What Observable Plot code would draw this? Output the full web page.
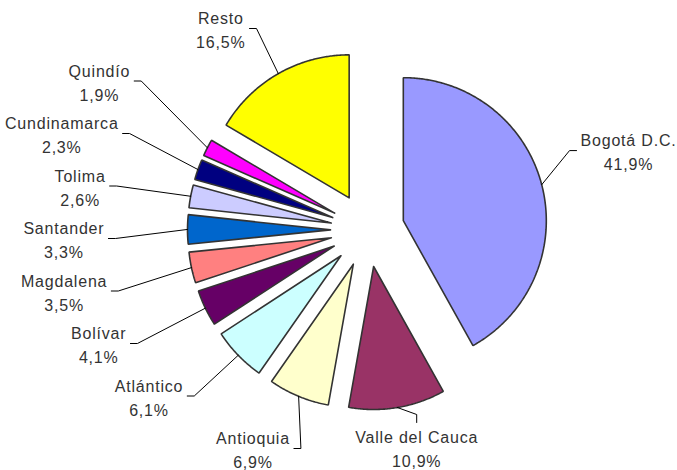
<!DOCTYPE html>
<html><head><meta charset="utf-8">
<script src="https://cdn.jsdelivr.net/npm/d3@7"></script>
<script src="https://cdn.jsdelivr.net/npm/@observablehq/plot@0.6"></script>
<style>html,body{margin:0;padding:0;background:#fff}</style>
</head><body><div id="chart"></div>
<script>
// ---- data ----
const categories = ["Bogotá D.C.", "Valle del Cauca", "Antioquia", "Atlántico", "Bolívar", "Magdalena", "Santander", "Tolima", "Cundinamarca", "Quindío", "Resto"];
const values = [41.9, 10.9, 6.9, 6.1, 4.1, 3.5, 3.3, 2.6, 2.3, 1.9, 16.5];
const pctLabels = ["41,9%", "10,9%", "6,9%", "6,1%", "4,1%", "3,5%", "3,3%", "2,6%", "2,3%", "1,9%", "16,5%"];
const colors = ["#9999FF", "#993366", "#FFFFCC", "#CCFFFF", "#660066", "#FF8080", "#0066CC", "#CCCCFF", "#000080", "#FF00FF", "#FFFF00"];

// ---- layout constants ----
const W = 677, H = 470;
const CX = 367, CY = 229.5, R = 143, EXPLODE = 37;
const D0 = 263, TICK = 7, GAP = 4, SPACING = 52.5;
const FONT_SIZE = 16, LINE_H = 1.5, LETTER = 0.8;
const FONT = "'Liberation Sans', Arial, Helvetica, sans-serif";

const dir = a => [Math.sin(a), -Math.cos(a)];
const arcs = d3.pie().sort(null).value(d => d)(values);

// slice polygons
const slicePts = [];
arcs.forEach((a, i) => {
  const mid = (a.startAngle + a.endAngle) / 2;
  const [dx, dy] = dir(mid);
  const vx = CX + EXPLODE * dx, vy = CY + EXPLODE * dy;
  const n = Math.max(2, Math.ceil((a.endAngle - a.startAngle) / (Math.PI / 360)));
  slicePts.push({i, x: vx, y: vy});
  for (let k = 0; k <= n; k++) {
    const t = a.startAngle + (a.endAngle - a.startAngle) * k / n;
    const [sx, sy] = dir(t);
    slicePts.push({i, x: vx + R * sx, y: vy + R * sy});
  }
  slicePts.push({i, x: vx, y: vy});
});

// label layout (box placed just outside the pie, then de-overlapped and kept inside)
const ctx = document.createElement("canvas").getContext("2d");
ctx.font = `${FONT_SIZE}px ${FONT}`;
const textW = s => ctx.measureText(s).width + LETTER * s.length;
const lineGap = FONT_SIZE * LINE_H;
const boxH = 2 * lineGap;

const L = arcs.map((a, i) => {
  const mid = (a.startAngle + a.endAngle) / 2;
  const [dx, dy] = dir(mid);
  const w = Math.max(textW(categories[i]), textW(pctLabels[i]));
  const side = Math.abs(mid - Math.PI) < 0.35 ? "bottom" : (dx > 0 ? "right" : "left");
  const D = D0 + Math.abs(dx) * w / 2 + Math.abs(dy) * boxH / 2;
  return {i, w, side,
    ox: CX + (R + EXPLODE) * dx, oy: CY + (R + EXPLODE) * dy,
    bx: CX + D * dx, by: CY + D * dy};
});

function spread(items, minY, maxY) {
  items.sort((a, b) => a.by - b.by);
  const clusters = items.map(d => ({items: [d]}));
  const place = c => {
    const n = c.items.length;
    let s = d3.mean(c.items, (d, k) => d.by - k * SPACING);
    s = Math.max(minY, Math.min(maxY - (n - 1) * SPACING, s));
    c.start = s;
  };
  clusters.forEach(place);
  let merged = true;
  while (merged) {
    merged = false;
    for (let j = 0; j < clusters.length - 1; j++) {
      const a = clusters[j], b = clusters[j + 1];
      if (a.start + a.items.length * SPACING > b.start) {
        a.items = a.items.concat(b.items);
        clusters.splice(j + 1, 1);
        place(a);
        merged = true;
        break;
      }
    }
  }
  clusters.forEach(c => c.items.forEach((d, k) => d.ly = c.start + k * SPACING));
}
spread(L.filter(d => d.side === "left"), 28, 448);
spread(L.filter(d => d.side === "right"), 28, 448);

const leaderPts = [];
const labelData = [];
L.forEach(d => {
  let x = Math.max(1 + d.w / 2, Math.min(W - 1 - d.w / 2, d.bx));
  let y, tick, bend;
  if (d.side === "left") {
    y = d.ly;
    tick = [x + d.w / 2 + GAP, y]; bend = [tick[0] + TICK, y];
  } else if (d.side === "right") {
    y = d.ly;
    tick = [x - d.w / 2 - GAP, y]; bend = [tick[0] - TICK, y];
  } else {
    y = Math.max(28, Math.min(447, d.by));
    tick = [x, y - boxH / 2 - 1]; bend = [x, tick[1] - 8];
  }
  leaderPts.push({i: d.i, x: d.ox, y: d.oy}, {i: d.i, x: bend[0], y: bend[1]}, {i: d.i, x: tick[0], y: tick[1]});
  labelData.push({i: d.i, x, y});
});

const chart = Plot.plot({
  width: W, height: H,
  marginTop: 0, marginRight: 0, marginBottom: 0, marginLeft: 0,
  x: {domain: [0, W], range: [0, W], axis: null},
  y: {domain: [0, H], range: [0, H], axis: null},
  color: {type: "identity"},
  style: {fontFamily: FONT, letterSpacing: LETTER + "px", background: "#fff"},
  marks: [
    Plot.line(slicePts, {x: "x", y: "y", z: "i", fill: d => colors[d.i], stroke: "#333", strokeWidth: 1.6, strokeLinejoin: "miter"}),
    Plot.line(leaderPts, {x: "x", y: "y", z: "i", stroke: "#000", strokeWidth: 1}),
    Plot.text(labelData, {x: "x", y: "y", text: d => categories[d.i] + "\n" + pctLabels[d.i],
      fontSize: FONT_SIZE, lineHeight: LINE_H, fill: "#333", textAnchor: "middle"})
  ]
});
document.getElementById("chart").appendChild(chart);
</script>
</body></html>
